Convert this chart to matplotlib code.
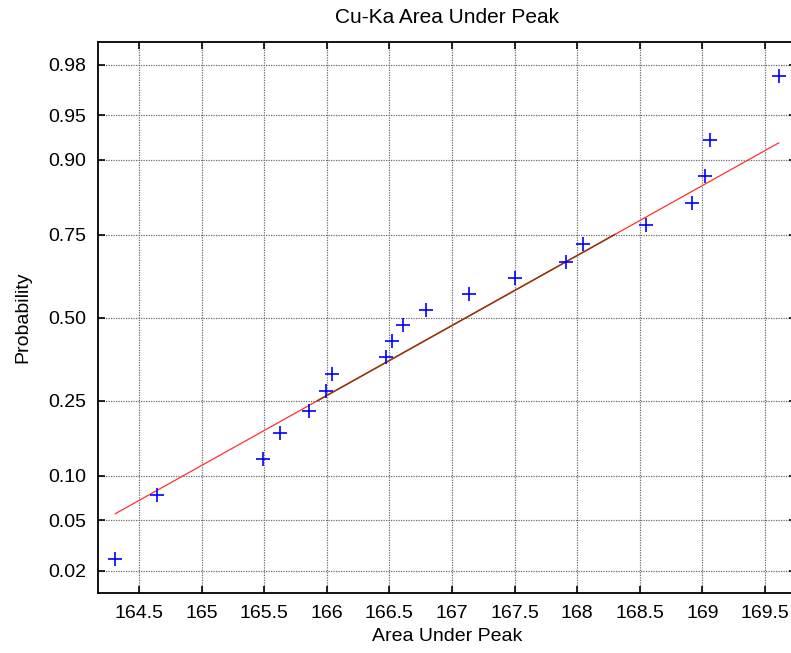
import numpy as np
import matplotlib
matplotlib.use("Agg")
import matplotlib.pyplot as plt
from matplotlib.ticker import FixedLocator, FixedFormatter
from statistics import NormalDist

plt.rcParams["font.family"] = ["Liberation Sans", "DejaVu Sans"]

# Sorted measurements of the Cu-Ka peak area
area = [164.31, 164.64, 165.49, 165.63, 165.86, 165.99, 166.04, 166.47, 166.52, 166.61,
        166.79, 167.14, 167.50, 167.91, 168.05, 168.55, 168.92, 169.02, 169.06, 169.61]
# Plotting positions (i - 0.5) / n
prob = [0.025, 0.075, 0.125, 0.175, 0.225, 0.275, 0.325, 0.375, 0.425, 0.475,
        0.525, 0.575, 0.625, 0.675, 0.725, 0.775, 0.825, 0.875, 0.925, 0.975]

x_ticks = [164.5, 165, 165.5, 166, 166.5, 167, 167.5, 168, 168.5, 169, 169.5]
y_ticks = [0.02, 0.05, 0.10, 0.25, 0.50, 0.75, 0.90, 0.95, 0.98]
y_labels = ["0.02", "0.05", "0.10", "0.25", "0.50", "0.75", "0.90", "0.95", "0.98"]

nd = NormalDist()
_ppf = np.vectorize(lambda p: nd.inv_cdf(min(max(p, 1e-9), 1 - 1e-9)), otypes=[float])
_cdf = np.vectorize(nd.cdf, otypes=[float])


def fwd(p):
    return _ppf(np.asarray(p, dtype=float))


def inv(z):
    return _cdf(np.asarray(z, dtype=float))


x = np.array(area)

# reference line through the quartiles
q1, q3 = np.percentile(x, [25, 75], method="hazen")
z1, z3 = nd.inv_cdf(0.25), nd.inv_cdf(0.75)
slope = (z3 - z1) / (q3 - q1)


def line_p(xv):
    return inv(z1 + slope * (np.asarray(xv) - q1))


fig = plt.figure(figsize=(7.91, 6.53), dpi=100)
ax = fig.add_axes([0.1243, 0.0919, 0.882, 0.8433])
ax.set_yscale("function", functions=(fwd, inv))

xs_full = np.array([x.min(), x.max()])
xs_mid = np.array([q1, q3])
ax.plot(xs_full, line_p(xs_full), color="#ff3030", lw=0.9, zorder=2)
ax.plot(xs_mid, line_p(xs_mid), color="#8a3c0c", lw=1.1, zorder=3)
ax.plot(area, prob, "+", color="#0000ff", ms=10, mew=1.2, zorder=4)

ax.set_xlim(164.175, 169.748)
ax.set_ylim(float(inv(-2.235)), float(inv(2.235)))

ax.xaxis.set_major_locator(FixedLocator(x_ticks))
ax.xaxis.set_major_formatter(FixedFormatter(["%g" % t for t in x_ticks]))
ax.yaxis.set_major_locator(FixedLocator(y_ticks))
ax.yaxis.set_major_formatter(FixedFormatter(y_labels))
ax.minorticks_off()

ax.grid(True, color="0.42", ls=(0, (1, 1)), lw=0.9)
ax.tick_params(direction="in", length=5, width=1.2, top=True, right=True,
               labelsize=14, colors="black")
ax.tick_params(axis="x", pad=9)
ax.tick_params(axis="y", pad=9)
for s in ax.spines.values():
    s.set_linewidth(1.3)

ax.set_title("Cu-Ka Area Under Peak", fontsize=15, pad=14)
ax.set_xlabel("Area Under Peak", fontsize=14, labelpad=4)
ax.set_ylabel("Probability", fontsize=14, labelpad=12)

fig.savefig("out.png", dpi=100)
